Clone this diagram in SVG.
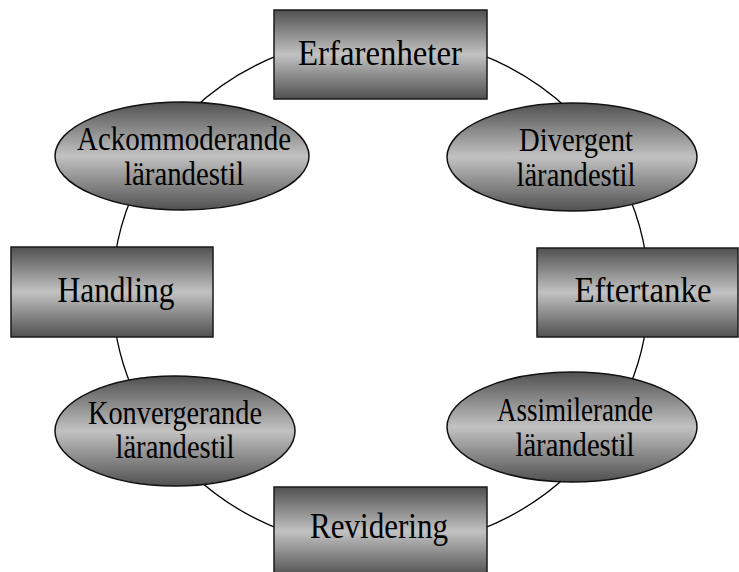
<svg xmlns="http://www.w3.org/2000/svg" width="739" height="572" viewBox="0 0 739 572">
<defs>
<linearGradient id="g" x1="0" y1="0" x2="0" y2="1">
<stop offset="0" stop-color="#505050"/>
<stop offset="0.5" stop-color="#c2c2c2"/>
<stop offset="1" stop-color="#505050"/>
</linearGradient>
<style>
.box{fill:url(#g);stroke:#1a1a1a;stroke-width:1.5}
.ell{fill:url(#g);stroke:#111;stroke-width:1.5}
text{font-family:"Liberation Serif","Times New Roman",serif;fill:#000;text-anchor:middle}
.t1{font-size:35px}
.t2{font-size:33px}
.conn{fill:none;stroke:#000;stroke-width:1.3}
</style>
</defs>
<rect width="739" height="572" fill="#fff"/>
<g id="connectors">
<ellipse class="conn" cx="380.5" cy="292" rx="268" ry="256"/>
</g>
<g id="erfarenheter">
<rect class="box" x="274" y="10" width="213" height="89"/>
<text class="t1" x="380" y="65" textLength="164" lengthAdjust="spacingAndGlyphs">Erfarenheter</text>
</g>
<g id="divergent">
<ellipse class="ell" cx="572" cy="157" rx="125" ry="54"/>
<text class="t2" x="576" y="151" textLength="114" lengthAdjust="spacingAndGlyphs">Divergent</text>
<text class="t2" x="576" y="186" textLength="119" lengthAdjust="spacingAndGlyphs">lärandestil</text>
</g>
<g id="eftertanke">
<rect class="box" x="537" y="248" width="201" height="89"/>
<text class="t1" x="643" y="302" textLength="137" lengthAdjust="spacingAndGlyphs">Eftertanke</text>
</g>
<g id="assimilerande">
<ellipse class="ell" cx="572" cy="427" rx="125" ry="55"/>
<text class="t2" x="575" y="421" textLength="156" lengthAdjust="spacingAndGlyphs">Assimilerande</text>
<text class="t2" x="575" y="456" textLength="119" lengthAdjust="spacingAndGlyphs">lärandestil</text>
</g>
<g id="revidering">
<rect class="box" x="274" y="487" width="213" height="89"/>
<text class="t1" x="379" y="538" textLength="138" lengthAdjust="spacingAndGlyphs">Revidering</text>
</g>
<g id="konvergerande">
<ellipse class="ell" cx="175" cy="431" rx="120" ry="55"/>
<text class="t2" x="175" y="424" textLength="174" lengthAdjust="spacingAndGlyphs">Konvergerande</text>
<text class="t2" x="175" y="458" textLength="119" lengthAdjust="spacingAndGlyphs">lärandestil</text>
</g>
<g id="handling">
<rect class="box" x="11" y="247" width="202" height="90"/>
<text class="t1" x="116" y="302" textLength="117" lengthAdjust="spacingAndGlyphs">Handling</text>
</g>
<g id="ackommoderande">
<ellipse class="ell" cx="182" cy="156" rx="127" ry="54"/>
<text class="t2" x="184" y="150" textLength="214" lengthAdjust="spacingAndGlyphs">Ackommoderande</text>
<text class="t2" x="184" y="185" textLength="120" lengthAdjust="spacingAndGlyphs">lärandestil</text>
</g>
</svg>
